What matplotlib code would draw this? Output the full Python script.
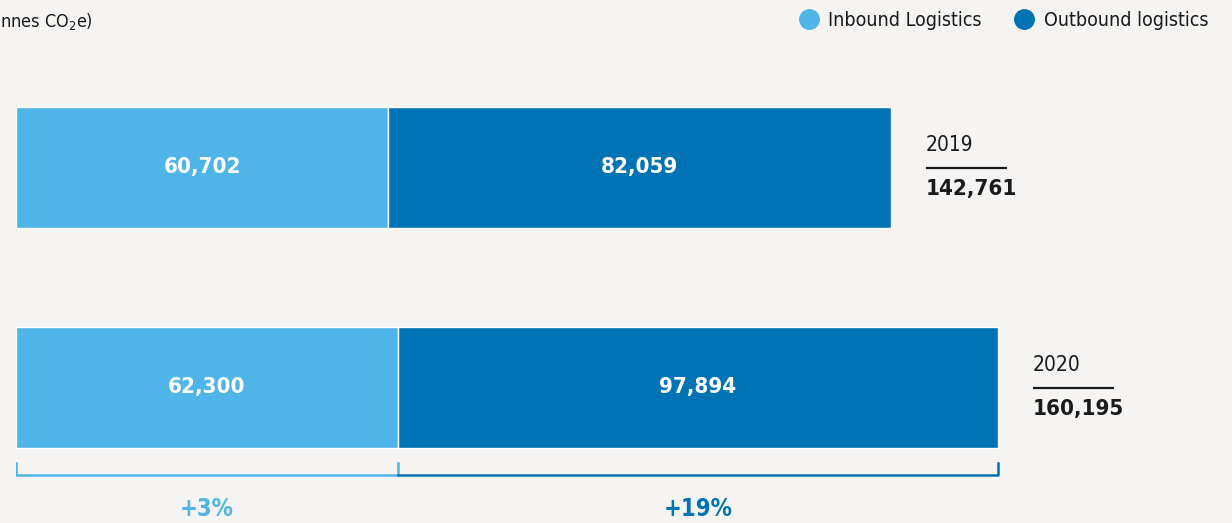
import matplotlib
matplotlib.use("Agg")
import matplotlib.pyplot as plt
from matplotlib.lines import Line2D

# ── data ─────────────────────────────────────────
years = ["2019", "2020"]
inbound = [60702, 62300]
outbound = [82059, 97894]
totals = [142761, 160195]
changes = ["+3%", "+19%"]
series_names = ["Inbound Logistics", "Outbound logistics"]

# ── style ────────────────────────────────────────
BG = "#f5f4f2"
LIGHT = "#4fb4e7"
DARK = "#0073b5"
INK = "#1a1a1a"
plt.rcParams["font.family"] = ["DejaVu Sans"]
plt.rcParams["font.stretch"] = "condensed"

W, H, DPI = 1232, 523, 100
fig = plt.figure(figsize=(W / DPI, H / DPI), dpi=DPI, facecolor=BG)

# axes placed so that x=0 sits at 16px from the left
left_px = 16
px_per_unit = 875 / totals[0]
ax = fig.add_axes([left_px / W, 0, 1 - left_px / W, 1])
ax.set_facecolor(BG)
ax.set_xlim(0, (W - left_px) / px_per_unit)
# bar centres 220px apart, first at 167.5px from top
ax.set_ylim((H - 167.5) / 220, -167.5 / 220)
ax.axis("off")

ypos = list(range(len(years)))
bh = 0.55
ax.barh(ypos, inbound, height=bh, color=LIGHT, edgecolor="white", linewidth=1)
ax.barh(ypos, outbound, left=inbound, height=bh, color=DARK, edgecolor="white", linewidth=1)

for y, a, b, tot, yr in zip(ypos, inbound, outbound, totals, years):
    ax.text(a / 2, y, f"{a:,}", ha="center", va="center", color="white",
            fontsize=16, fontweight="bold")
    ax.text(a + b / 2, y, f"{b:,}", ha="center", va="center", color="white",
            fontsize=16, fontweight="bold")
    x0 = tot + 35 / px_per_unit
    ax.plot([x0, x0 + 81 / px_per_unit], [y, y], color=INK, lw=1.6, solid_capstyle="butt")
    ax.text(x0, y - 0.055, yr, ha="left", va="bottom", color=INK, fontsize=15)
    ax.text(x0, y + 0.05, f"{tot:,}", ha="left", va="top", color=INK,
            fontsize=16, fontweight="bold")

# brackets under the 2020 bar
yb_top, yb = 1 + 75.5 / 220, 1 + 87.5 / 220
a, b = inbound[-1], outbound[-1]
ax.plot([0, 0, a, a], [yb_top, yb, yb, yb_top], color=LIGHT, lw=1.8)
ax.plot([a, a + b, a + b], [yb, yb, yb_top], color=DARK, lw=1.8)
ax.text(a / 2, 1 + 121.5 / 220, changes[0], ha="center", va="center",
        color=LIGHT, fontsize=17, fontweight="bold")
ax.text(a + b / 2, 1 + 121.5 / 220, changes[1], ha="center", va="center",
        color=DARK, fontsize=17, fontweight="bold")

# unit label (only its tail is visible in the source)
fig.text(0, 1 - 21 / H, "nnes CO$_2$e)", ha="left", va="center",
         color=INK, fontsize=13)

# legend
handles = [Line2D([], [], marker="o", ls="", markersize=14, color=c)
           for c in (LIGHT, DARK)]
leg = fig.legend(handles, series_names, loc="upper right", bbox_to_anchor=(0.995, 1.012),
                 ncol=2, frameon=False, fontsize=14, handletextpad=0.0,
                 columnspacing=1.2, labelcolor=INK)

fig.savefig("out.png", dpi=DPI, facecolor=BG)
